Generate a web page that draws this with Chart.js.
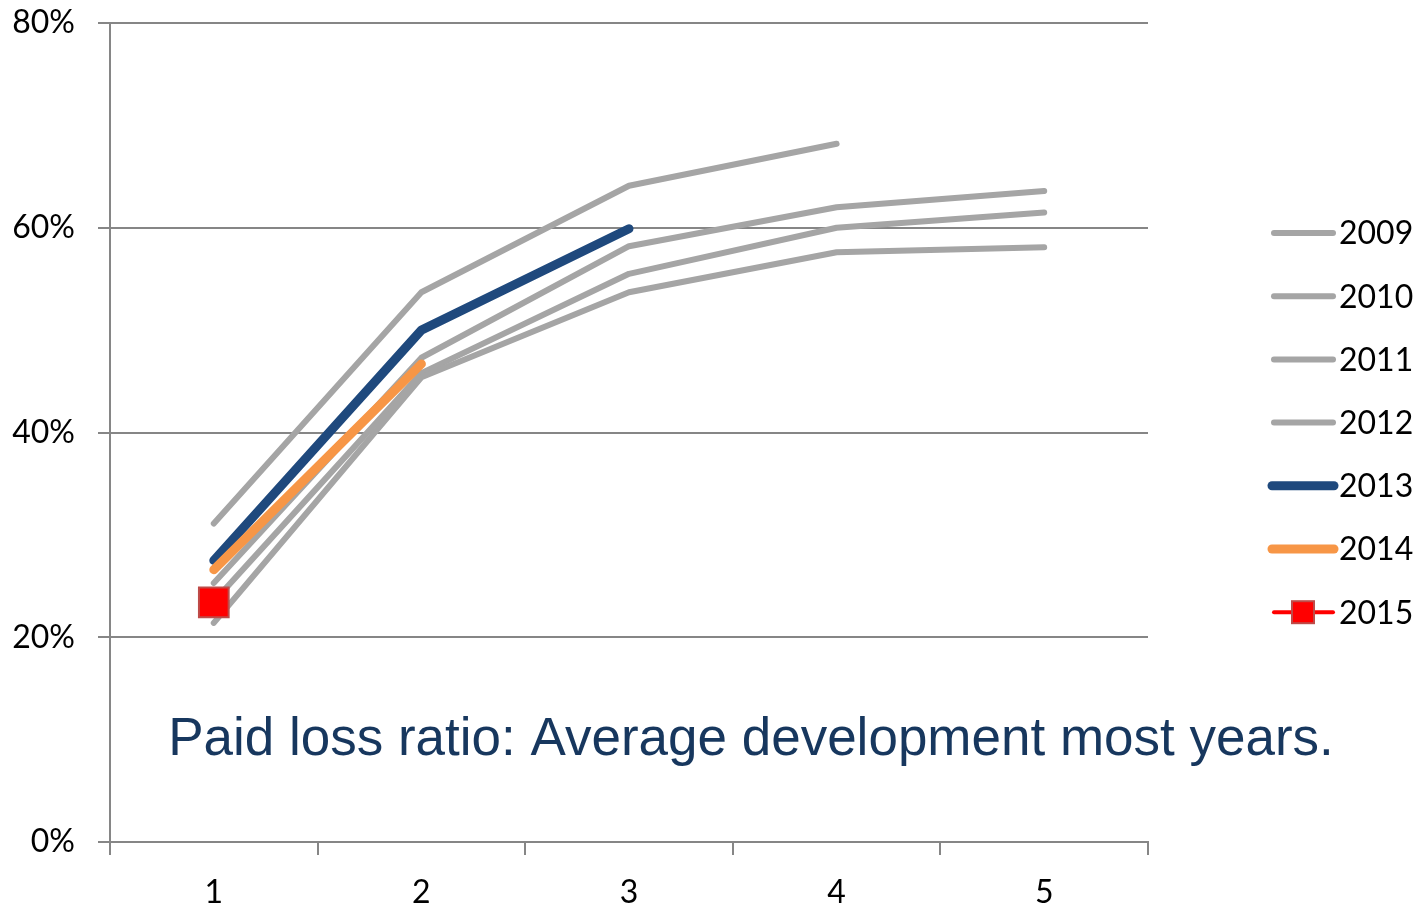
<!DOCTYPE html>
<html>
<head>
<meta charset="utf-8">
<script src="https://cdn.jsdelivr.net/npm/chart.js@4.4.0/dist/chart.umd.min.js"></script>
<style>
body { margin: 0; background: #fff; }
#wrap { width: 1418px; height: 904px; }
</style>
</head>
<body>
<div id="wrap"><canvas id="chart1"></canvas></div>
<script>
// development period (years since accident year)
var devYears = ['1', '2', '3', '4', '5'];

// paid loss ratio in %
var y2009 = [25.3, 47.3, 58.2, 62.0, 63.6];
var y2010 = [23.5, 45.8, 55.5, 60.0, 61.5];
var y2011 = [21.4, 45.4, 53.7, 57.6, 58.1];
var y2012 = [31.1, 53.7, 64.1, 68.2];
var y2013 = [27.5, 50.0, 59.9];
var y2014 = [26.6, 46.7];
var y2015 = [23.4];

var yearLabels = ['2009', '2010', '2011', '2012', '2013', '2014', '2015'];
var captionText = 'Paid loss ratio: Average development most years.';

var grey = '#a5a5a5';
var blue = '#1f497d';
var orange = '#f79646';
var red = '#ff0000';

function lineSet(label, data, color, width, order) {
	return {
		label: label,
		data: data,
		borderColor: color,
		backgroundColor: color,
		borderWidth: width,
		borderCapStyle: 'round',
		borderJoinStyle: 'round',
		pointRadius: 0,
		pointHoverRadius: 0,
		tension: 0,
		fill: false,
		order: order
	};
}

var datasets = [
	lineSet(yearLabels[0], y2009, grey, 6, 6),
	lineSet(yearLabels[1], y2010, grey, 6, 5),
	lineSet(yearLabels[2], y2011, grey, 6, 4),
	lineSet(yearLabels[3], y2012, grey, 6, 3),
	lineSet(yearLabels[4], y2013, blue, 9, 2),
	lineSet(yearLabels[5], y2014, orange, 9, 1),
	{
		label: yearLabels[6],
		data: y2015,
		borderColor: red,
		backgroundColor: red,
		borderWidth: 4,
		pointStyle: 'rect',
		pointRadius: 21,
		pointHoverRadius: 21,
		pointBackgroundColor: red,
		pointBorderColor: '#be4b48',
		pointBorderWidth: 2,
		order: 0
	}
];

// legend at right + caption, drawn on the canvas
var extras = {
	id: 'extras',
	afterDraw: function (chart) {
		var ctx = chart.ctx;
		ctx.save();
		var y0 = 233, step = 63.2;
		ctx.font = '32px Lato';
		ctx.textBaseline = 'middle';
		ctx.textAlign = 'left';
		ctx.lineCap = 'round';
		chart.data.datasets.forEach(function (ds, i) {
			var y = y0 + i * step;
			ctx.strokeStyle = ds.borderColor;
			ctx.lineWidth = ds.borderWidth;
			ctx.beginPath();
			if (ds.borderWidth > 6) {
				ctx.moveTo(1272, y); ctx.lineTo(1334, y);
			} else {
				ctx.moveTo(1274, y); ctx.lineTo(1333, y);
			}
			ctx.stroke();
			if (ds.pointStyle === 'rect') {
				ctx.fillStyle = ds.pointBackgroundColor;
				ctx.fillRect(1292, y - 11, 22, 22);
				ctx.strokeStyle = ds.pointBorderColor;
				ctx.lineWidth = 2;
				ctx.strokeRect(1292, y - 11, 22, 22);
			}
			ctx.fillStyle = '#000';
			ctx.fillText(ds.label, 1339, y + 1);
		});
		ctx.font = '53px "Liberation Sans"';
		ctx.fillStyle = '#17375e';
		ctx.textAlign = 'center';
		ctx.textBaseline = 'alphabetic';
		ctx.fillText(captionText, 751, 755);
		ctx.restore();
	}
};

var c1 = document.getElementById('chart1').getContext('2d');
var lossChart = new Chart(c1, {
	type: 'line',
	data: {
		labels: devYears,
		datasets: datasets
	},
	plugins: [extras],
	options: {
		responsive: true,
		maintainAspectRatio: false,
		animation: false,
		events: [],
		layout: {
			padding: { top: 22, right: 270, left: 0, bottom: 0 }
		},
		plugins: {
			legend: { display: false },
			tooltip: { enabled: false }
		},
		scales: {
			x: {
				offset: true,
				afterFit: function (scale) {
					scale.height = 62;
					scale.paddingLeft = 0;
					scale.paddingRight = 0;
				},
				grid: {
					offset: true,
					drawOnChartArea: false,
					color: '#868686',
					lineWidth: 2,
					tickLength: 13
				},
				border: { color: '#868686', width: 2 },
				ticks: {
					color: '#000',
					font: { family: 'Lato', size: 32 },
					padding: 18,
					maxRotation: 0
				}
			},
			y: {
				min: 0,
				max: 80,
				afterFit: function (scale) {
					scale.width = 110;
					scale.paddingTop = 0;
					scale.paddingBottom = 0;
				},
				grid: {
					color: '#868686',
					lineWidth: 2,
					tickLength: 12
				},
				border: { color: '#868686', width: 2 },
				ticks: {
					stepSize: 20,
					color: '#000',
					font: { family: 'Lato', size: 32 },
					padding: 23,
					callback: function (v) { return v + '%'; }
				}
			}
		}
	}
});
</script>
</body>
</html>
